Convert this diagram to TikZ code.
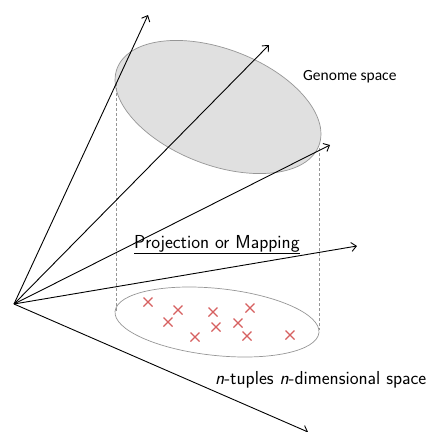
\documentclass[tikz,border=0pt]{standalone}
\usepackage{fontspec}
\newfontfamily\genomefont{Carlito}
\usetikzlibrary{shapes.geometric,arrows.meta}
\definecolor{crossred}{RGB}{214,96,96}
\definecolor{spacefill}{RGB}{224,224,224}
\definecolor{spaceedge}{RGB}{150,150,150}
\tikzset{
  axis/.style={line width=0.9pt,-{Straight Barb[length=5pt,width=9pt,line width=0.9pt]}},
  proj/.style={spaceedge,line width=0.6pt,dash pattern=on 3pt off 2pt},
  pt/.style={crossred,line width=1.2pt},
  lbl/.style={font=\sffamily\fontsize{18.8}{22}\selectfont,inner sep=0pt,anchor=base west},
}
\newcommand{\mycross}[2]{\draw[pt] (#1-4.5,#2-4.5) -- (#1+4.5,#2+4.5) (#1-4.5,#2+4.5) -- (#1+4.5,#2-4.5);}
\begin{document}
\begin{tikzpicture}[x=1pt,y=-1pt]
\useasboundingbox (0,0) rectangle (427,432);
% genome space
\node[ellipse,draw=spaceedge,fill=spacefill,line width=0.7pt,minimum width=216pt,minimum height=116pt,inner sep=0pt,rotate=-21] (genome) at (218,107) {};
% n-dimensional space
\node[ellipse,draw=spaceedge,line width=0.7pt,minimum width=205pt,minimum height=67pt,inner sep=0pt,rotate=-6] (nspace) at (217,322) {};
% projection lines
\coordinate (pl1) at (116,83);
\coordinate (pl2) at (116,312);
\coordinate (pr1) at (319,148);
\coordinate (pr2) at (319,330);
\draw[proj] (pl1) -- (pl2);
\draw[proj] (pr1) -- (pr2);
% axes
\coordinate (O) at (14,304);
\coordinate (a1) at (148,15);
\coordinate (a2) at (269,45);
\coordinate (a3) at (330,145);
\coordinate (a4) at (357,246);
\coordinate (a5) at (308,432);
\draw[axis] (O) -- (a1);
\draw[axis] (O) -- (a2);
\draw[axis] (O) -- (a3);
\draw[axis] (O) -- (a4);
\draw[axis] (O) -- (a5);
% points
\mycross{148}{302}
\mycross{178}{310}
\mycross{168}{322}
\mycross{213}{312}
\mycross{250}{308}
\mycross{238}{323}
\mycross{216}{327}
\mycross{195}{337}
\mycross{247}{336}
\mycross{290}{335}
% labels
\node[inner sep=0pt,anchor=base west,font=\genomefont\fontsize{15.5}{18}\selectfont] (lg) at (303,80) {Genome space};
\node[lbl] (lp) at (134,248) {\underline{Projection or Mapping}};
\node[lbl] (ln) at (215,384) {\textit{n}-tuples \textit{n}-dimensional space};
\end{tikzpicture}
\end{document}
